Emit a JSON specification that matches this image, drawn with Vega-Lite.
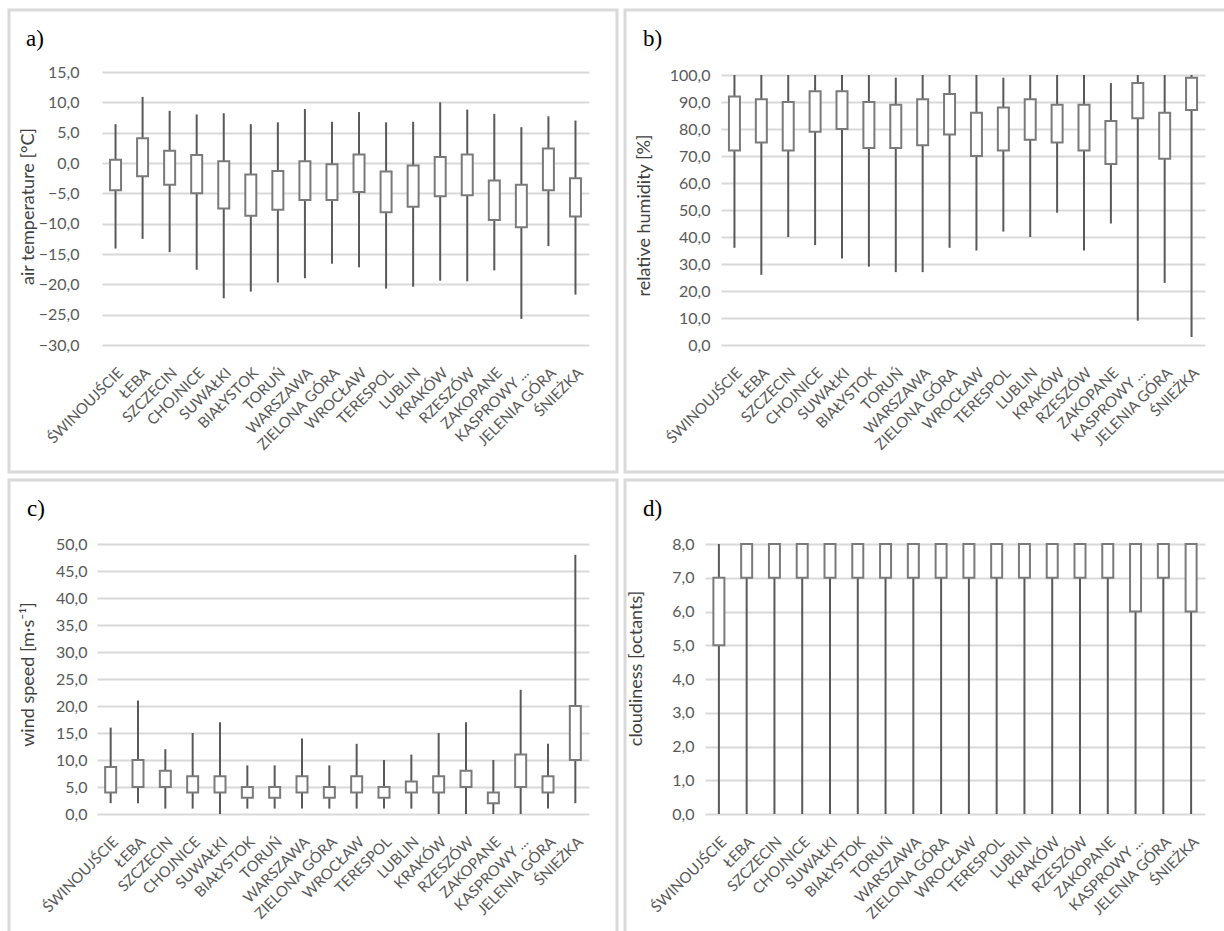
{
  "$schema": "https://vega.github.io/schema/vega-lite/v6.json",
  "padding": {"left": 7, "top": 8, "right": 0, "bottom": 0},
  "background": "white",
  "config": {
    "view": {"stroke": "#d9d9d9", "strokeWidth": 3},
    "font": "Lato"
  },
  "datasets": {
    "temp": [
      {"station": "ŚWINOUJŚCIE", "min": -14.1, "q1": -4.5, "q3": 0.55, "max": 6.4},
      {"station": "ŁEBA", "min": -12.5, "q1": -2.2, "q3": 4.1, "max": 10.9},
      {"station": "SZCZECIN", "min": -14.7, "q1": -3.6, "q3": 2.0, "max": 8.6},
      {"station": "CHOJNICE", "min": -17.6, "q1": -5.0, "q3": 1.3, "max": 8.0},
      {"station": "SUWAŁKI", "min": -22.3, "q1": -7.5, "q3": 0.3, "max": 8.2},
      {"station": "BIAŁYSTOK", "min": -21.2, "q1": -8.7, "q3": -1.9, "max": 6.4},
      {"station": "TORUŃ", "min": -19.7, "q1": -7.7, "q3": -1.3, "max": 6.7},
      {"station": "WARSZAWA", "min": -19.0, "q1": -6.1, "q3": 0.3, "max": 8.9},
      {"station": "ZIELONA GÓRA", "min": -16.6, "q1": -6.1, "q3": -0.2, "max": 6.8},
      {"station": "WROCŁAW", "min": -17.2, "q1": -4.8, "q3": 1.4, "max": 8.4},
      {"station": "TERESPOL", "min": -20.7, "q1": -8.1, "q3": -1.4, "max": 6.7},
      {"station": "LUBLIN", "min": -20.4, "q1": -7.2, "q3": -0.4, "max": 6.8},
      {"station": "KRAKÓW", "min": -19.4, "q1": -5.5, "q3": 1.0, "max": 10.0},
      {"station": "RZESZÓW", "min": -19.5, "q1": -5.3, "q3": 1.4, "max": 8.8},
      {"station": "ZAKOPANE", "min": -17.7, "q1": -9.4, "q3": -2.9, "max": 8.1},
      {"station": "KASPROWY WIERCH", "min": -25.7, "q1": -10.6, "q3": -3.6, "max": 5.9},
      {"station": "JELENIA GÓRA", "min": -13.7, "q1": -4.5, "q3": 2.4, "max": 7.7},
      {"station": "ŚNIEŻKA", "min": -21.7, "q1": -8.8, "q3": -2.5, "max": 7.0}
    ],
    "rh": [
      {"station": "ŚWINOUJŚCIE", "min": 36, "q1": 72, "q3": 92, "max": 100},
      {"station": "ŁEBA", "min": 26, "q1": 75, "q3": 91, "max": 100},
      {"station": "SZCZECIN", "min": 40, "q1": 72, "q3": 90, "max": 100},
      {"station": "CHOJNICE", "min": 37, "q1": 79, "q3": 94, "max": 100},
      {"station": "SUWAŁKI", "min": 32, "q1": 80, "q3": 94, "max": 100},
      {"station": "BIAŁYSTOK", "min": 29, "q1": 73, "q3": 90, "max": 100},
      {"station": "TORUŃ", "min": 27, "q1": 73, "q3": 89, "max": 99},
      {"station": "WARSZAWA", "min": 27, "q1": 74, "q3": 91, "max": 100},
      {"station": "ZIELONA GÓRA", "min": 36, "q1": 78, "q3": 93, "max": 100},
      {"station": "WROCŁAW", "min": 35, "q1": 70, "q3": 86, "max": 100},
      {"station": "TERESPOL", "min": 42, "q1": 72, "q3": 88, "max": 99},
      {"station": "LUBLIN", "min": 40, "q1": 76, "q3": 91, "max": 100},
      {"station": "KRAKÓW", "min": 49, "q1": 75, "q3": 89, "max": 100},
      {"station": "RZESZÓW", "min": 35, "q1": 72, "q3": 89, "max": 100},
      {"station": "ZAKOPANE", "min": 45, "q1": 67, "q3": 83, "max": 97},
      {"station": "KASPROWY WIERCH", "min": 9, "q1": 84, "q3": 97, "max": 100},
      {"station": "JELENIA GÓRA", "min": 23, "q1": 69, "q3": 86, "max": 100},
      {"station": "ŚNIEŻKA", "min": 3, "q1": 87, "q3": 99, "max": 100}
    ],
    "wind": [
      {"station": "ŚWINOUJŚCIE", "min": 2, "q1": 4, "q3": 8.7, "max": 16},
      {"station": "ŁEBA", "min": 2, "q1": 5, "q3": 10, "max": 21},
      {"station": "SZCZECIN", "min": 1, "q1": 5, "q3": 8, "max": 12},
      {"station": "CHOJNICE", "min": 1, "q1": 4, "q3": 7, "max": 15},
      {"station": "SUWAŁKI", "min": 0, "q1": 4, "q3": 7, "max": 17},
      {"station": "BIAŁYSTOK", "min": 1, "q1": 3, "q3": 5, "max": 9},
      {"station": "TORUŃ", "min": 1, "q1": 3, "q3": 5, "max": 9},
      {"station": "WARSZAWA", "min": 1, "q1": 4, "q3": 7, "max": 14},
      {"station": "ZIELONA GÓRA", "min": 1, "q1": 3, "q3": 5, "max": 9},
      {"station": "WROCŁAW", "min": 1, "q1": 4, "q3": 7, "max": 13},
      {"station": "TERESPOL", "min": 1, "q1": 3, "q3": 5, "max": 10},
      {"station": "LUBLIN", "min": 1, "q1": 4, "q3": 6, "max": 11},
      {"station": "KRAKÓW", "min": 0, "q1": 4, "q3": 7, "max": 15},
      {"station": "RZESZÓW", "min": 0, "q1": 5, "q3": 8, "max": 17},
      {"station": "ZAKOPANE", "min": 0, "q1": 2, "q3": 4, "max": 10},
      {"station": "KASPROWY WIERCH", "min": 0, "q1": 5, "q3": 11, "max": 23},
      {"station": "JELENIA GÓRA", "min": 1, "q1": 4, "q3": 7, "max": 13},
      {"station": "ŚNIEŻKA", "min": 2, "q1": 10, "q3": 20, "max": 48}
    ],
    "cloud": [
      {"station": "ŚWINOUJŚCIE", "min": 0, "q1": 5, "q3": 7, "max": 8},
      {"station": "ŁEBA", "min": 0, "q1": 7, "q3": 8, "max": 8},
      {"station": "SZCZECIN", "min": 0, "q1": 7, "q3": 8, "max": 8},
      {"station": "CHOJNICE", "min": 0, "q1": 7, "q3": 8, "max": 8},
      {"station": "SUWAŁKI", "min": 0, "q1": 7, "q3": 8, "max": 8},
      {"station": "BIAŁYSTOK", "min": 0, "q1": 7, "q3": 8, "max": 8},
      {"station": "TORUŃ", "min": 0, "q1": 7, "q3": 8, "max": 8},
      {"station": "WARSZAWA", "min": 0, "q1": 7, "q3": 8, "max": 8},
      {"station": "ZIELONA GÓRA", "min": 0, "q1": 7, "q3": 8, "max": 8},
      {"station": "WROCŁAW", "min": 0, "q1": 7, "q3": 8, "max": 8},
      {"station": "TERESPOL", "min": 0, "q1": 7, "q3": 8, "max": 8},
      {"station": "LUBLIN", "min": 0, "q1": 7, "q3": 8, "max": 8},
      {"station": "KRAKÓW", "min": 0, "q1": 7, "q3": 8, "max": 8},
      {"station": "RZESZÓW", "min": 0, "q1": 7, "q3": 8, "max": 8},
      {"station": "ZAKOPANE", "min": 0, "q1": 7, "q3": 8, "max": 8},
      {"station": "KASPROWY WIERCH", "min": 0, "q1": 6, "q3": 8, "max": 8},
      {"station": "JELENIA GÓRA", "min": 0, "q1": 7, "q3": 8, "max": 8},
      {"station": "ŚNIEŻKA", "min": 0, "q1": 6, "q3": 8, "max": 8}
    ]
  },
  "spacing": 4,
  "vconcat": [
    {
      "spacing": 4,
      "hconcat": [
        {
          "width": 608, "height": 462,
          "data": {"name": "temp"},
          "title": {"text": "a)", "anchor": "start", "frame": "group", "offset": -59, "baseline": "alphabetic", "dx": 17, "font": "Liberation Serif", "fontSize": 23, "fontWeight": "normal", "color": "#000000"},
          "encoding": {
            "x": {"field": "station", "type": "nominal", "sort": null,
              "scale": {"range": [93, 580], "paddingInner": 0, "paddingOuter": 0},
              "axis": {"title": null, "labelAngle": -45, "labelFont": "Lato", "labelFontSize": 15, "labelColor": "#595959", "ticks": false, "domain": false, "grid": false, "offset": -109, "labelPadding": 2, "labelExpr": "datum.label == 'KASPROWY WIERCH' ? 'KASPROWY ...' : datum.label"}}
          },
          "layer": [
            {"mark": {"type": "rule", "color": "#595959", "strokeWidth": 2},
             "encoding": {
               "y": {"field": "min", "type": "quantitative", "scale": {"domain": [-30, 15], "range": [335, 62], "nice": false, "zero": false},
                 "axis": {"title": "air temperature [°C]", "values": [-30, -25, -20, -15, -10, -5, 0, 5, 10, 15], "labelExpr": "replace(format(datum.value,'.1f'),'.',',')", "offset": -70, "labelPadding": 0, "ticks": false, "domain": false, "grid": true, "gridColor": "#d9d9d9", "gridWidth": 2, "labelFont": "Lato", "labelFontSize": 16, "labelColor": "#595959", "titleFont": "Lato", "titleFontSize": 18, "titleFontWeight": "normal", "titleColor": "#404040", "titleX": -51, "titleY": 196, "titleBaseline": "middle", "titleAngle": -90}},
               "y2": {"field": "max"}
             }},
            {"mark": {"type": "bar", "width": 11, "fill": "white", "stroke": "#7a7a7a", "strokeWidth": 2},
             "encoding": {
               "y": {"field": "q1", "type": "quantitative",
                 "axis": {"title": "air temperature [°C]", "values": [-30, -25, -20, -15, -10, -5, 0, 5, 10, 15], "labelExpr": "replace(format(datum.value,'.1f'),'.',',')", "offset": -70, "labelPadding": 0, "ticks": false, "domain": false, "grid": true, "gridColor": "#d9d9d9", "gridWidth": 2, "labelFont": "Lato", "labelFontSize": 16, "labelColor": "#595959", "titleFont": "Lato", "titleFontSize": 18, "titleFontWeight": "normal", "titleColor": "#404040", "titleX": -51, "titleY": 196, "titleBaseline": "middle", "titleAngle": -90}},
               "y2": {"field": "q3"}
             }}
          ]
        },
        {
          "width": 605, "height": 462,
          "data": {"name": "rh"},
          "title": {"text": "b)", "anchor": "start", "frame": "group", "offset": -59, "baseline": "alphabetic", "dx": 18, "font": "Liberation Serif", "fontSize": 23, "fontWeight": "normal", "color": "#000000"},
          "encoding": {
            "x": {"field": "station", "type": "nominal", "sort": null,
              "scale": {"range": [96, 580], "paddingInner": 0, "paddingOuter": 0},
              "axis": {"title": null, "labelAngle": -45, "labelFont": "Lato", "labelFontSize": 15, "labelColor": "#595959", "ticks": false, "domain": false, "grid": false, "offset": -109, "labelPadding": 2, "labelExpr": "datum.label == 'KASPROWY WIERCH' ? 'KASPROWY ...' : datum.label"}}
          },
          "layer": [
            {"mark": {"type": "rule", "color": "#595959", "strokeWidth": 2},
             "encoding": {
               "y": {"field": "min", "type": "quantitative", "scale": {"domain": [0, 100], "range": [335, 65], "nice": false, "zero": false},
                 "axis": {"title": "relative humidity [%]", "values": [0, 10, 20, 30, 40, 50, 60, 70, 80, 90, 100], "labelExpr": "replace(format(datum.value,'.1f'),'.',',')", "offset": -85, "labelPadding": 0, "ticks": false, "domain": false, "grid": true, "gridColor": "#d9d9d9", "gridWidth": 2, "labelFont": "Lato", "labelFontSize": 16, "labelColor": "#595959", "titleFont": "Lato", "titleFontSize": 18, "titleFontWeight": "normal", "titleColor": "#404040", "titleX": -66, "titleY": 205, "titleBaseline": "middle", "titleAngle": -90}},
               "y2": {"field": "max"}
             }},
            {"mark": {"type": "bar", "width": 11, "fill": "white", "stroke": "#7a7a7a", "strokeWidth": 2},
             "encoding": {
               "y": {"field": "q1", "type": "quantitative",
                 "axis": {"title": "relative humidity [%]", "values": [0, 10, 20, 30, 40, 50, 60, 70, 80, 90, 100], "labelExpr": "replace(format(datum.value,'.1f'),'.',',')", "offset": -85, "labelPadding": 0, "ticks": false, "domain": false, "grid": true, "gridColor": "#d9d9d9", "gridWidth": 2, "labelFont": "Lato", "labelFontSize": 16, "labelColor": "#595959", "titleFont": "Lato", "titleFontSize": 18, "titleFontWeight": "normal", "titleColor": "#404040", "titleX": -66, "titleY": 205, "titleBaseline": "middle", "titleAngle": -90}},
               "y2": {"field": "q3"}
             }}
          ]
        }
      ]
    },
    {
      "spacing": 4,
      "hconcat": [
        {
          "width": 608, "height": 456,
          "data": {"name": "wind"},
          "title": {"text": "c)", "anchor": "start", "frame": "group", "offset": -59, "baseline": "alphabetic", "dx": 18, "font": "Liberation Serif", "fontSize": 23, "fontWeight": "normal", "color": "#000000"},
          "encoding": {
            "x": {"field": "station", "type": "nominal", "sort": null,
              "scale": {"range": [88, 580], "paddingInner": 0, "paddingOuter": 0},
              "axis": {"title": null, "labelAngle": -45, "labelFont": "Lato", "labelFontSize": 15, "labelColor": "#595959", "ticks": false, "domain": false, "grid": false, "offset": -104, "labelPadding": 2, "labelExpr": "datum.label == 'KASPROWY WIERCH' ? 'KASPROWY ...' : datum.label"}}
          },
          "layer": [
            {"mark": {"type": "rule", "color": "#595959", "strokeWidth": 2},
             "encoding": {
               "y": {"field": "min", "type": "quantitative", "scale": {"domain": [0, 50], "range": [334, 64], "nice": false, "zero": false},
                 "axis": {"title": "wind speed [m·s⁻¹]", "values": [0, 5, 10, 15, 20, 25, 30, 35, 40, 45, 50], "labelExpr": "replace(format(datum.value,'.1f'),'.',',')", "offset": -78, "labelPadding": 0, "ticks": false, "domain": false, "grid": true, "gridColor": "#d9d9d9", "gridWidth": 2, "labelFont": "Lato", "labelFontSize": 16, "labelColor": "#595959", "titleFont": "Lato", "titleFontSize": 18, "titleFontWeight": "normal", "titleColor": "#404040", "titleX": -59, "titleY": 194, "titleBaseline": "middle", "titleAngle": -90}},
               "y2": {"field": "max"}
             }},
            {"mark": {"type": "bar", "width": 11, "fill": "white", "stroke": "#7a7a7a", "strokeWidth": 2},
             "encoding": {
               "y": {"field": "q1", "type": "quantitative",
                 "axis": {"title": "wind speed [m·s⁻¹]", "values": [0, 5, 10, 15, 20, 25, 30, 35, 40, 45, 50], "labelExpr": "replace(format(datum.value,'.1f'),'.',',')", "offset": -78, "labelPadding": 0, "ticks": false, "domain": false, "grid": true, "gridColor": "#d9d9d9", "gridWidth": 2, "labelFont": "Lato", "labelFontSize": 16, "labelColor": "#595959", "titleFont": "Lato", "titleFontSize": 18, "titleFontWeight": "normal", "titleColor": "#404040", "titleX": -59, "titleY": 194, "titleBaseline": "middle", "titleAngle": -90}},
               "y2": {"field": "q3"}
             }}
          ]
        },
        {
          "width": 605, "height": 456,
          "data": {"name": "cloud"},
          "title": {"text": "d)", "anchor": "start", "frame": "group", "offset": -59, "baseline": "alphabetic", "dx": 18, "font": "Liberation Serif", "fontSize": 23, "fontWeight": "normal", "color": "#000000"},
          "encoding": {
            "x": {"field": "station", "type": "nominal", "sort": null,
              "scale": {"range": [80, 580], "paddingInner": 0, "paddingOuter": 0},
              "axis": {"title": null, "labelAngle": -45, "labelFont": "Lato", "labelFontSize": 15, "labelColor": "#595959", "ticks": false, "domain": false, "grid": false, "offset": -104, "labelPadding": 2, "labelExpr": "datum.label == 'KASPROWY WIERCH' ? 'KASPROWY ...' : datum.label"}}
          },
          "layer": [
            {"mark": {"type": "rule", "color": "#595959", "strokeWidth": 2},
             "encoding": {
               "y": {"field": "min", "type": "quantitative", "scale": {"domain": [0, 8], "range": [334, 64], "nice": false, "zero": false},
                 "axis": {"title": "cloudiness [octants]", "values": [0, 1, 2, 3, 4, 5, 6, 7, 8], "labelExpr": "replace(format(datum.value,'.1f'),'.',',')", "offset": -69, "labelPadding": 0, "ticks": false, "domain": false, "grid": true, "gridColor": "#d9d9d9", "gridWidth": 2, "labelFont": "Lato", "labelFontSize": 16, "labelColor": "#595959", "titleFont": "Lato", "titleFontSize": 18, "titleFontWeight": "normal", "titleColor": "#404040", "titleX": -58, "titleY": 188, "titleBaseline": "middle", "titleAngle": -90}},
               "y2": {"field": "max"}
             }},
            {"mark": {"type": "bar", "width": 11, "fill": "white", "stroke": "#7a7a7a", "strokeWidth": 2},
             "encoding": {
               "y": {"field": "q1", "type": "quantitative",
                 "axis": {"title": "cloudiness [octants]", "values": [0, 1, 2, 3, 4, 5, 6, 7, 8], "labelExpr": "replace(format(datum.value,'.1f'),'.',',')", "offset": -69, "labelPadding": 0, "ticks": false, "domain": false, "grid": true, "gridColor": "#d9d9d9", "gridWidth": 2, "labelFont": "Lato", "labelFontSize": 16, "labelColor": "#595959", "titleFont": "Lato", "titleFontSize": 18, "titleFontWeight": "normal", "titleColor": "#404040", "titleX": -58, "titleY": 188, "titleBaseline": "middle", "titleAngle": -90}},
               "y2": {"field": "q3"}
             }}
          ]
        }
      ]
    }
  ]
}
